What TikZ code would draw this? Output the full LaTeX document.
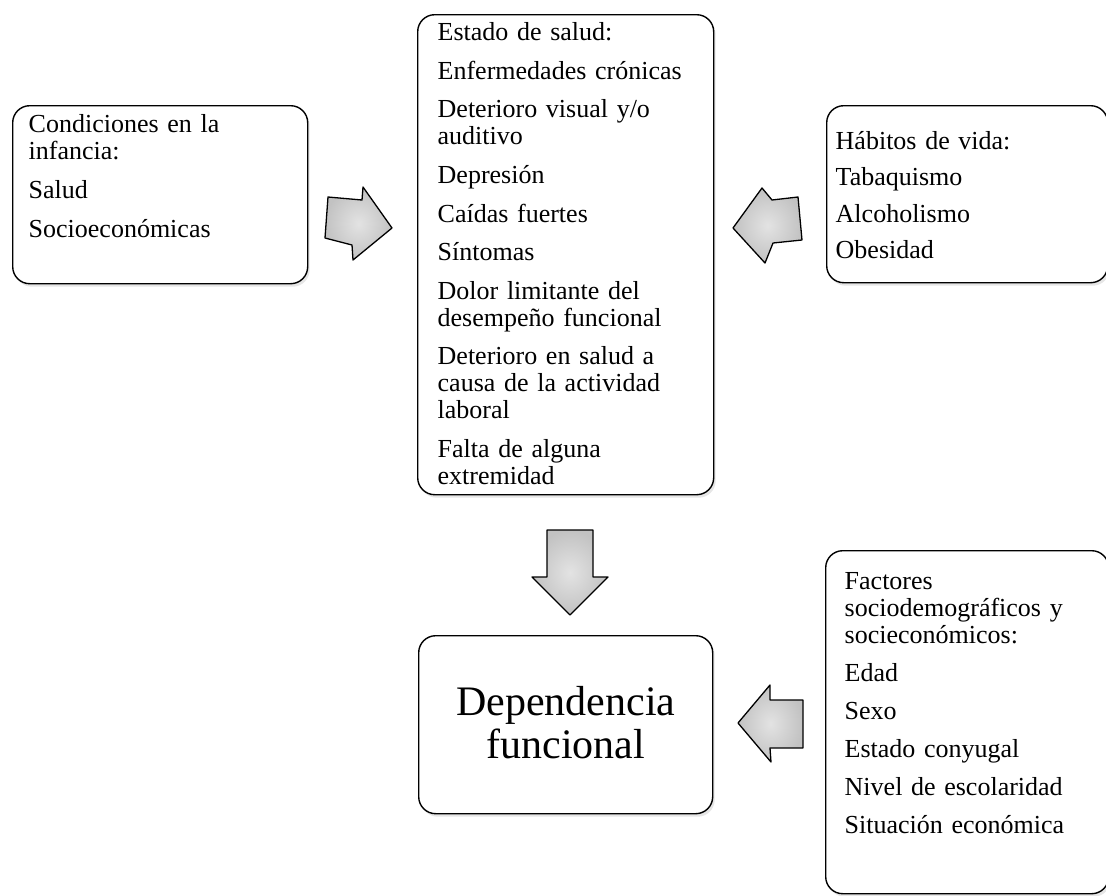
\documentclass[tikz,border=0pt]{standalone}
\usepackage{fontspec}
\setmainfont{Liberation Serif}
\usetikzlibrary{shadows}
\tikzset{
	box/.style={draw, line width=1.4pt, rounded corners=17pt, fill=white,
		drop shadow={shadow xshift=2pt, shadow yshift=-3pt, opacity=0.2},
		anchor=north west, align=left, inner ysep=0pt,
		font=\fontsize{26}{27}\selectfont},
	blockarrow/.style={draw, line width=1.3pt, line join=round,
		inner color=gray!22, outer color=gray!48}
}
\begin{document}
\begin{tikzpicture}[x=1pt, y=-1pt]
		\useasboundingbox (0,0) rectangle (1106,895);
		%boxes
		\node[box, inner xsep=16pt, text width=263pt, text height=27pt, text depth=151pt] (infancia) at (12,105)
			{Condiciones en la\\ infancia:\\[12pt] Salud\\[12pt] Socioeconómicas};
		\node[box, inner xsep=20pt, text width=256pt, text height=26pt, text depth=454pt] (salud) at (417,14)
			{Estado de salud:\\[11.6pt] Enfermedades crónicas\\[11.6pt] Deterioro visual y/o\\ auditivo\\[11.6pt]
			Depresión\\[11.6pt] Caídas fuertes\\[11.6pt] Síntomas\\[11.6pt] Dolor limitante del\\ desempeño funcional\\[11.6pt]
			Deterioro en salud a\\ causa de la actividad\\ laboral\\[11.6pt] Falta de alguna\\ extremidad};
		\node[box, inner xsep=9pt, text width=263pt, text height=43.5pt, text depth=133.5pt] (habitos) at (826,105)
			{Hábitos de vida:\\[9.5pt] Tabaquismo\\[9.5pt] Alcoholismo\\[9.5pt] Obesidad};
		\node[box, align=center, font=\fontsize{42}{43}\selectfont, inner xsep=10pt, text width=274pt,
			text height=80pt, text depth=98pt] (dependencia) at (418,635)
			{Dependencia\\ funcional};
		\node[box, inner xsep=19pt, text width=245pt, text height=39pt, text depth=304pt] (factores) at (825,550)
			{Factores\\ sociodemográficos y\\ socieconómicos:\\[11pt] Edad\\[11pt] Sexo\\[11pt] Estado conyugal\\[11pt]
			Nivel de escolaridad\\[11pt] Situación económica};
		
		%arrows
		\draw[blockarrow] (328,197) -- (362,200) -- (363,187) -- (392,228) -- (353,260) -- (352,245) -- (325,238) -- cycle;
		\draw[blockarrow] (733,228) -- (762,188) -- (772,200) -- (798,197) -- (802,240) -- (773,243) -- (765,263) -- cycle;
		\draw[blockarrow] (547,530) -- (593,530) -- (593,577) -- (608,577) -- (570,615) -- (532,577) -- (547,577) -- cycle;
		\draw[blockarrow] (738,723) -- (770,685) -- (770,700) -- (803,700) -- (803,748) -- (770,748) -- (771,762) -- cycle;
\end{tikzpicture}
\end{document}
